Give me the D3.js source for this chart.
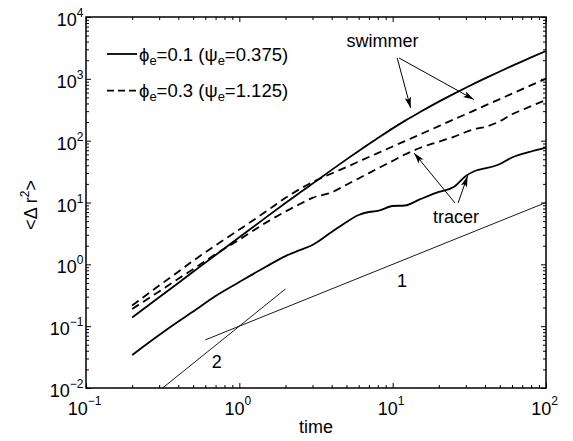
<!DOCTYPE html>
<html>
<head>
<meta charset="utf-8">
<script src="https://cdn.jsdelivr.net/npm/d3@7"></script>
<style>
  body { margin: 0; background: #fff; }
  svg text { font-family: "Liberation Sans", Arial, Helvetica, sans-serif; fill: #000; }
</style>
</head>
<body>
<svg id="chart" width="573" height="441"></svg>
<script>
// sample times
const time = [0.2, 0.3, 0.4, 0.5, 0.7, 1, 1.5, 2, 2.5, 3, 4, 5, 6, 7, 8, 10, 12, 15, 20, 25, 30, 35, 40, 50, 60, 70, 80, 100];

// swimmer, phi_e = 0.1 (solid)
const swimmerLow = [0.138, 0.293, 0.500, 0.757, 1.415, 2.75, 5.80, 9.79, 14.6, 20.2, 33.7, 49.8, 68.2, 88.4, 110, 158, 209, 288, 428, 572, 719, 867, 1016, 1316, 1617, 1919, 2220, 2820];
// swimmer, phi_e = 0.3 (dashed)
const swimmerHigh = [0.216, 0.453, 0.760, 1.14, 2.03, 3.65, 7.21, 11.9, 16.7, 21.3, 29.5, 37.5, 45.9, 54.5, 63.0, 80.5, 98.1, 125.5, 172, 220, 268, 318, 368, 470, 575, 680, 790, 1006];
// tracer, phi_e = 0.3 (dashed)
const tracerHigh = [0.190, 0.364, 0.586, 0.834, 1.46, 2.51, 4.77, 7.15, 9.53, 11.9, 14.6, 19.4, 24.5, 29.9, 35.5, 47.1, 59.6, 76.0, 96.3, 115, 138, 156, 166, 206, 268, 315, 362, 455];
// tracer, phi_e = 0.1 (solid)
const tracerLow = [0.0342, 0.0720, 0.119, 0.173, 0.308, 0.518, 0.923, 1.36, 1.71, 2.06, 3.33, 4.84, 6.28, 7.02, 7.29, 8.78, 8.95, 11.2, 14.8, 17.8, 26.8, 32.9, 35.5, 42.0, 53.5, 60.9, 66.8, 77.0];

// guide lines of slope 1 and 2
const slopeOneTime = [0.6, 100];
const slopeOneValue = [0.06, 10];
const slopeTwoTime = [0.316, 2];
const slopeTwoValue = [0.01, 0.4];

// tick exponents
const xTickExp = [-1, 0, 1, 2];
const yTickExp = [-2, -1, 0, 1, 2, 3, 4];

const legendLabels = [
    ['\u03d5', 'e', '=0.1 (\u03c8', 'e', '=0.375)'],
    ['\u03d5', 'e', '=0.3 (\u03c8', 'e', '=1.125)']
];

let svg = d3.select('#chart');
let margin = {top: 17, right: 27, bottom: 53, left: 86};
let width = 573 - margin.left - margin.right;
let height = 441 - margin.top - margin.bottom;

let x = d3.scaleLog().domain([0.1, 100]).range([0, width]);
let y = d3.scaleLog().domain([0.01, 1e4]).range([height, 0]);

let g = svg.append('g').attr('transform', `translate(${margin.left},${margin.top})`);

// ticks on all four sides, pointing inwards
let minorX = x.ticks().filter(t => Math.abs(Math.log10(t) % 1) > 1e-6);
let minorY = y.ticks().filter(t => Math.abs(Math.log10(t) % 1) > 1e-6);
let majorX = xTickExp.map(e => Math.pow(10, e));
let majorY = yTickExp.map(e => Math.pow(10, e));

function ticks(axis, tr) {
    let a = g.append('g').attr('transform', tr).call(axis);
    a.select('.domain').remove();
    a.selectAll('line').attr('stroke', '#000').attr('stroke-width', 1);
}
ticks(d3.axisBottom(x).tickValues(minorX).tickSize(-3).tickFormat(''), `translate(0,${height})`);
ticks(d3.axisBottom(x).tickValues(majorX).tickSize(-5).tickFormat(''), `translate(0,${height})`);
ticks(d3.axisTop(x).tickValues(minorX).tickSize(-3).tickFormat(''), 'translate(0,0)');
ticks(d3.axisTop(x).tickValues(majorX).tickSize(-5).tickFormat(''), 'translate(0,0)');
ticks(d3.axisLeft(y).tickValues(minorY).tickSize(-3).tickFormat(''), 'translate(0,0)');
ticks(d3.axisLeft(y).tickValues(majorY).tickSize(-5).tickFormat(''), 'translate(0,0)');
ticks(d3.axisRight(y).tickValues(minorY).tickSize(-3).tickFormat(''), `translate(${width},0)`);
ticks(d3.axisRight(y).tickValues(majorY).tickSize(-5).tickFormat(''), `translate(${width},0)`);

g.append('rect')
    .attr('width', width).attr('height', height)
    .attr('fill', 'none').attr('stroke', '#000').attr('stroke-width', 1.5);

// tick labels as 10^n
function expText(e) { return String(e).replace('-', '\u2212'); }

let xl = g.append('g').selectAll('text').data(xTickExp).enter().append('text')
    .attr('x', e => x(Math.pow(10, e)) - 1.5)
    .attr('y', height + 27)
    .attr('text-anchor', 'middle')
    .style('font-size', '18px');
xl.append('tspan').text('10');
xl.append('tspan').attr('dy', -10).style('font-size', '12px').text(e => expText(e));

let yl = g.append('g').selectAll('text').data(yTickExp).enter().append('text')
    .attr('x', -2.5)
    .attr('y', e => y(Math.pow(10, e)) + 9)
    .attr('text-anchor', 'end')
    .style('font-size', '18px');
yl.append('tspan').text('10');
yl.append('tspan').attr('dy', -9).style('font-size', '12px').text(e => expText(e));

// axis titles
g.append('text')
    .attr('x', width / 2).attr('y', height + 45)
    .attr('text-anchor', 'middle').style('font-size', '18px')
    .text('time');

let yt = g.append('text')
    .attr('transform', `translate(${37 - margin.left},${205 - margin.top}) rotate(-90)`)
    .attr('text-anchor', 'middle').style('font-size', '18px');
yt.append('tspan').text('<\u0394 r');
yt.append('tspan').attr('dy', -8).style('font-size', '12px').text('2');
yt.append('tspan').attr('dy', 8).text('>');

// curves
let line = d3.line()
    .x(d => x(d[0]))
    .y(d => y(d[1]))
    .curve(d3.curveMonotoneX);

let series = [
    {values: swimmerLow, dash: null},
    {values: swimmerHigh, dash: '8,5'},
    {values: tracerHigh, dash: '8,5'},
    {values: tracerLow, dash: null}
];

g.append('g').selectAll('path').data(series).enter().append('path')
    .attr('d', s => line(time.map((t, i) => [t, s.values[i]])))
    .attr('fill', 'none')
    .attr('stroke', '#000')
    .attr('stroke-width', 1.8)
    .attr('stroke-dasharray', s => s.dash);

let guides = [
    slopeOneTime.map((t, i) => [t, slopeOneValue[i]]),
    slopeTwoTime.map((t, i) => [t, slopeTwoValue[i]])
];
g.append('g').selectAll('path').data(guides).enter().append('path')
    .attr('d', d3.line().x(d => x(d[0])).y(d => y(d[1])))
    .attr('fill', 'none')
    .attr('stroke', '#000')
    .attr('stroke-width', 0.9);

// annotations (data coordinates)
let labels = [
    {text: 'swimmer', t: 8.58, v: 3275},
    {text: 'tracer', t: 25.9, v: 4.66},
    {text: '1', t: 11.5, v: 0.43},
    {text: '2', t: 0.712, v: 0.0211}
];
g.append('g').selectAll('text').data(labels).enter().append('text')
    .attr('x', d => x(d.t)).attr('y', d => y(d.v))
    .attr('text-anchor', 'middle').style('font-size', '18px')
    .text(d => d.text);

svg.append('defs').append('marker')
    .attr('id', 'head')
    .attr('markerUnits', 'userSpaceOnUse')
    .attr('markerWidth', 12).attr('markerHeight', 7)
    .attr('refX', 11).attr('refY', 3.5)
    .attr('orient', 'auto')
    .append('path')
    .attr('d', 'M0,0.3 L11,3.5 L0,6.7 L2.5,3.5 Z')
    .attr('fill', '#000');

let arrows = [
    [[10.7, 2174], [13.1, 338]],
    [[11.0, 2174], [33.9, 463]],
    [[25.5, 9.82], [13.8, 63.2]],
    [[26.7, 9.82], [30.8, 26.8]]
];
g.append('g').selectAll('line').data(arrows).enter().append('line')
    .attr('x1', d => x(d[0][0])).attr('y1', d => y(d[0][1]))
    .attr('x2', d => x(d[1][0])).attr('y2', d => y(d[1][1]))
    .attr('stroke', '#000').attr('stroke-width', 1)
    .attr('marker-end', 'url(#head)');

// legend
let legend = g.append('g').selectAll('g').data(legendLabels).enter().append('g')
    .attr('transform', (d, i) => `translate(21,${37 + i * 36.7})`);
legend.append('line')
    .attr('x1', 0).attr('x2', 30)
    .attr('stroke', '#000').attr('stroke-width', 1.8)
    .attr('stroke-dasharray', (d, i) => i ? '7,4' : null);
let lt = legend.append('text')
    .attr('x', 32).attr('y', 6.5)
    .style('font-size', '18.5px');
lt.append('tspan').text(d => d[0]);
lt.append('tspan').attr('dy', 4).style('font-size', '13px').text(d => d[1]);
lt.append('tspan').attr('dy', -4).text(d => d[2]);
lt.append('tspan').attr('dy', 4).style('font-size', '13px').text(d => d[3]);
lt.append('tspan').attr('dy', -4).text(d => d[4]);
</script>
</body>
</html>
